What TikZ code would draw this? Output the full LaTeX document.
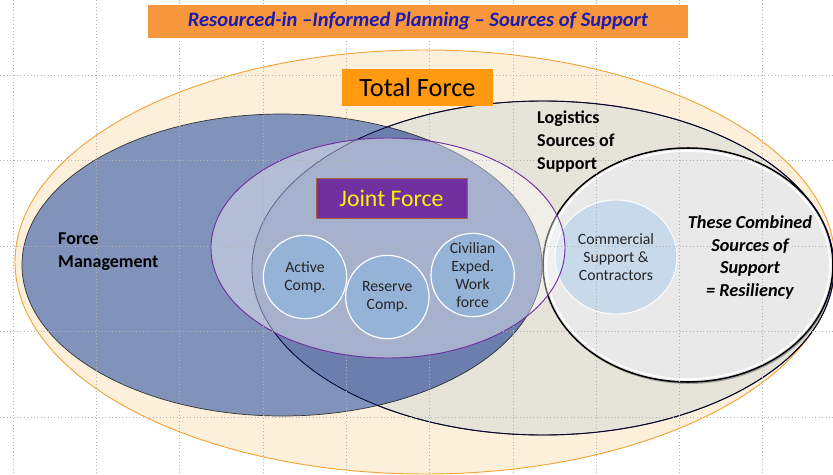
\documentclass[tikz,border=0pt]{standalone}
\usepackage{fontspec}
\setmainfont{Carlito}
\usetikzlibrary{positioning,shapes.geometric}

\definecolor{barorange}{HTML}{F7963C}
\definecolor{titleblue}{HTML}{1C1CB0}
\definecolor{tforange}{HTML}{FF9A10}
\definecolor{peach}{HTML}{FDF0DB}
\definecolor{peachline}{HTML}{F2A43A}
\definecolor{fmblue}{HTML}{7E8FBA}
\definecolor{fmdark}{HTML}{6C7EAE}
\definecolor{logbeige}{HTML}{E6E4D8}
\definecolor{jfpurple}{HTML}{7030A0}
\definecolor{jfborder}{HTML}{A8603A}
\definecolor{compblue}{HTML}{95B3D7}
\definecolor{combblue}{HTML}{C8D9EA}
\definecolor{resgray}{HTML}{E9E9E9}

\begin{document}
\begin{tikzpicture}[x=0.03cm,y=-0.03cm,
    bold text/.style={font=\fontsize{15.4}{19.6}\selectfont\bfseries},
    comp/.style={circle,draw=white,line width=1pt,fill=compblue,inner sep=0pt,
      minimum size=2.5cm,align=center,text=black!85,
      font=\fontsize{13.4}{15.4}\selectfont},
    guide/.style={gray!60,line width=0.4pt,dash pattern=on 0.5pt off 2.4pt}]
    \useasboundingbox (0,0) rectangle (833,475);

    % ellipses
    \fill[peach] (425,262) ellipse [x radius=410, y radius=212];
    \draw[peachline,line width=0.8pt] (425,262) ellipse [x radius=410, y radius=212];
    \fill[logbeige] (543,268) ellipse [x radius=291, y radius=167];
    \fill[black!35] (689,267) ellipse [x radius=145, y radius=117];
    \fill[resgray] (688,265) ellipse [x radius=145, y radius=117];
    \draw[white,line width=1.4pt] (688,265) ellipse [x radius=142, y radius=114];
    \draw[black,line width=1.3pt] (688,265) ellipse [x radius=145, y radius=117];
    \draw[black!85,line width=0.8pt] (543,268) ellipse [x radius=291, y radius=167];
    \node[ellipse,draw=white,line width=0.8pt,fill=combblue,minimum width=3.66cm,
      minimum height=3.42cm,inner sep=0pt,align=center,text=black!85,
      font=\fontsize{13.4}{15.4}\selectfont] (comm) at (616,257)
      {Commercial\\Support \&\\Contractors};
    \fill[fmblue,fill opacity=0.97] (282,265) ellipse [x radius=260, y radius=151];
    \begin{scope}
      \clip (282,265) ellipse [x radius=260, y radius=151];
      \fill[fmdark] (543,268) ellipse [x radius=291, y radius=167];
    \end{scope}
    \draw[black!80,line width=0.6pt] (282,265) ellipse [x radius=260, y radius=151];
    \draw[black!80!blue,line width=0.7pt] (543,268) ellipse [x radius=291, y radius=167];
    \fill[white,fill opacity=0.4] (388,248) ellipse [x radius=177, y radius=110];
    \draw[jfpurple,line width=0.8pt] (388,248) ellipse [x radius=177, y radius=110];

    % guides
    \foreach \gx in {13,96.3,...,850} \draw[guide] (\gx,0) -- (\gx,475);
    \foreach \gy in {75,160.5,246,331.5,417} \draw[guide] (0,\gy) -- (833,\gy);

    % boxes
    \node[fill=barorange,minimum width=16.2cm,minimum height=0.99cm,inner sep=0pt,
      text=titleblue,font=\fontsize{17.5}{20}\selectfont\bfseries\itshape] (title) at (418,21.5)
      {Resourced-in \textendash Informed Planning \textendash\ Sources of Support};
    \node[fill=tforange,minimum width=4.53cm,minimum height=1.11cm,inner sep=0pt,
      font=\fontsize{22.5}{26}\selectfont] (total) at (417.5,87.5) {Total Force};
    \node[fill=jfpurple,draw=jfborder,line width=0.6pt,minimum width=4.53cm,
      minimum height=1.2cm,inner sep=0pt,text=yellow,
      font=\fontsize{20.3}{24}\selectfont] (joint) at (391.5,198) {Joint Force};

    % components
    \node[comp] (active) at (305,277) {Active\\Comp.};
    \node[comp,on grid] (reserve) [below right=0.6cm and 2.47cm of active] {Reserve\\Comp.};
    \node[comp,on grid] (civilian) [above right=0.66cm and 2.56cm of reserve] {Civilian\\Exped.\\Work\\force};

    % labels
    \node[bold text,anchor=north west,align=left,inner sep=0pt] (fm) at (58,233) {Force\\Management};
    \node[bold text,anchor=north west,align=left,inner sep=0pt] (logs) at (537,111) {Logistics\\Sources of\\Support};
    \node[bold text,anchor=north,align=center,inner sep=0pt,font=\fontsize{15.6}{19.6}\selectfont\bfseries\itshape]
      (resil) at (750,215) {These Combined\\Sources of\\Support\\= Resiliency};
\end{tikzpicture}
\end{document}
